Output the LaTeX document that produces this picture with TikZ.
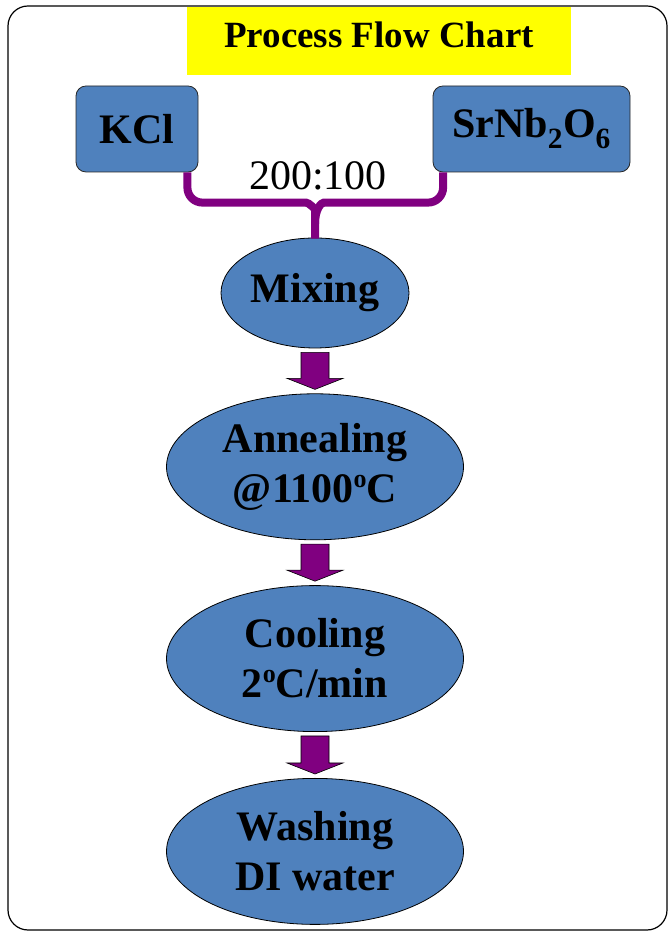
\documentclass[tikz,border=0pt]{standalone}
\usepackage{fontspec}
\setmainfont{Liberation Serif}
\usetikzlibrary{shapes.geometric,calc,positioning}
\definecolor{boxblue}{RGB}{79,129,189}
\definecolor{flowpurple}{RGB}{128,0,128}
\definecolor{titleyellow}{RGB}{255,255,0}
\tikzset{
  srcbox/.style={draw=black!85,fill=boxblue,rounded corners=10pt,minimum height=86pt,line width=0.8pt,
    font=\fontsize{42}{50}\selectfont\bfseries},
  stepoval/.style={ellipse,draw=black,fill=boxblue,line width=0.8pt,minimum width=297pt,minimum height=146pt,
    inner sep=0pt,align=center,font=\fontsize{42}{50}\selectfont\bfseries},
  blockarrow/.style={draw=black,fill=flowpurple,line width=0.6pt},
  brace/.style={draw=flowpurple,line width=8pt,rounded corners=15pt}
}
% degree sign as a raised small o
\newcommand{\dego}{\raisebox{15pt}{\fontsize{26}{26}\selectfont o}}
% block arrow from the bottom of #1 to the top of #2
\newcommand{\flowarrow}[2]{%
  \draw[blockarrow] ($(#1.south)+(-14,-4)$) -- ($(#2.north)+(-14,15)$) -- ($(#2.north)+(-28,15)$)
    -- ($(#2.north)+(0,4)$) -- ($(#2.north)+(28,15)$) -- ($(#2.north)+(14,15)$) -- ($(#1.south)+(14,-4)$) -- cycle;}

\begin{document}
\begin{tikzpicture}[x=1pt,y=1pt]
\useasboundingbox (0,0) rectangle (669,933);
\draw[line width=1.2pt,rounded corners=20pt] (8,3) rectangle (667,927);

\node[fill=titleyellow,minimum width=384pt,minimum height=68pt,inner sep=0pt,text depth=13pt,
  font=\fontsize{37}{40}\selectfont\bfseries] (title) at (379,892) {Process Flow Chart};

\node[srcbox,minimum width=122pt] (kcl) at (137,804) {KCl};
\node[srcbox,minimum width=197pt] (srnb) at (531.5,804) {SrNb\textsubscript{2}O\textsubscript{6}};

\node[stepoval,minimum width=188pt,minimum height=110pt] (mix) at (315,640) {Mixing};
\node[stepoval,below=45pt of mix] (anneal) {Annealing\\@1100\dego C};
\node[stepoval,below=45pt of anneal] (cool) {Cooling\\2\dego C/min};
\node[stepoval,below=46pt of cool] (wash) {Washing\\DI water};

% brace joining the two powders
\draw[brace] ([xshift=-11pt]kcl.south east) |- ([xshift=-24pt,yshift=35pt]mix.north)
  .. controls ([xshift=-6pt,yshift=35pt]mix.north) and ([yshift=28pt]mix.north) .. ([yshift=14pt]mix.north) -- (mix.north);
\draw[brace] ([xshift=10.5pt]srnb.south west) |- ([xshift=24pt,yshift=35pt]mix.north)
  .. controls ([xshift=6pt,yshift=35pt]mix.north) and ([yshift=28pt]mix.north) .. ([yshift=14pt]mix.north);
\node[font=\fontsize{42}{50}\selectfont] (ratio) at (318,757) {200:100};

\flowarrow{mix}{anneal}
\flowarrow{anneal}{cool}
\flowarrow{cool}{wash}
\end{tikzpicture}
\end{document}
